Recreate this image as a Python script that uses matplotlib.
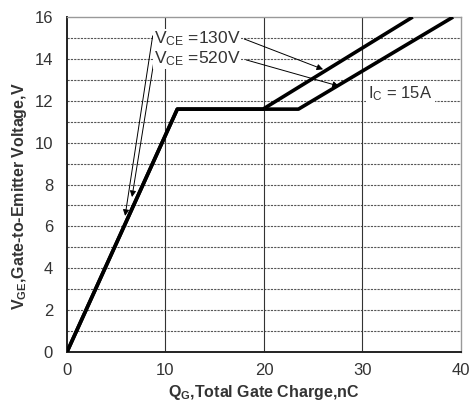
import matplotlib
matplotlib.use("Agg")
import matplotlib.pyplot as plt

plt.rcParams['font.family'] = ['Liberation Sans', 'DejaVu Sans']
plt.rcParams['mathtext.fontset'] = 'custom'
plt.rcParams['mathtext.rm'] = 'Liberation Sans'
plt.rcParams['mathtext.it'] = 'Liberation Sans'
plt.rcParams['mathtext.bf'] = 'Liberation Sans:bold'

# Data
qg_130 = [0, 11.2, 19.9, 35.1]
vge_130 = [0, 11.6, 11.6, 16.0]
qg_520 = [0, 11.2, 23.5, 39.2]
vge_520 = [0, 11.6, 11.6, 16.0]
x_ticks = [0, 10, 20, 30, 40]
y_ticks = [0, 2, 4, 6, 8, 10, 12, 14, 16]

fig = plt.figure(figsize=(4.73, 4.01), dpi=100)
ax = fig.add_axes([0.1416, 0.1222, 0.8330, 0.8354])

# grid
for y in range(1, 16):
    ax.axhline(y, color='#555555', lw=0.8, ls=(0, (2, 1)), zorder=1)
for x in [10, 20, 30]:
    ax.axvline(x, color='#333333', lw=0.8, zorder=1)

ax.plot(qg_130, vge_130, color='black', lw=2.6, zorder=3, solid_capstyle='butt')
ax.plot(qg_520, vge_520, color='black', lw=2.6, zorder=3, solid_capstyle='butt')

ax.set_xlim(0, 40)
ax.set_ylim(0, 16)
ax.set_xticks(x_ticks)
ax.set_yticks(y_ticks)
ax.tick_params(axis='x', length=0, labelsize=12, pad=8, colors='#333333')
ax.tick_params(axis='y', length=0, labelsize=12, pad=10, colors='#333333')
for s in ax.spines.values():
    s.set_color('#999999')
    s.set_linewidth(1.0)
ax.spines['left'].set_color('#222222')
ax.spines['bottom'].set_color('#222222')
ax.spines['left'].set_linewidth(1.4)
ax.spines['bottom'].set_linewidth(1.4)

ax.set_xlabel(r"Q$_\mathbf{G}$,Total Gate Charge,nC", fontsize=11.5,
              fontweight='bold', color='#333333', va='center')
ax.set_ylabel(r"V$_\mathbf{GE}$,Gate-to-Emitter Voltage,V", fontsize=11.5,
              fontweight='bold', color='#333333', va='center')
ax.xaxis.set_label_coords(0.5, -0.12)
ax.yaxis.set_label_coords(-0.12, 0.465)

arrow_kw = dict(arrowstyle='-|>', color='black', lw=0.7, mutation_scale=9,
                shrinkA=0, shrinkB=0)
# text labels
ax.text(8.8, 14.95, r"V$_{\mathrm{CE}}$ =130V", fontsize=12.5, va='center',
        ha='left', color='#333333', zorder=5,
        bbox=dict(facecolor='white', edgecolor='none', pad=0.5))
ax.text(8.8, 14.0, r"V$_{\mathrm{CE}}$ =520V", fontsize=12.5, va='center',
        ha='left', color='#333333', zorder=5,
        bbox=dict(facecolor='white', edgecolor='none', pad=0.5))
ax.text(30.6, 12.35, r"I$_{\mathrm{C}}$ = 15A", fontsize=12, va='center',
        ha='left', color='#333333', zorder=5,
        bbox=dict(facecolor='white', edgecolor='none', pad=2))

# arrows
ax.annotate("", xy=(5.9, 6.5), xytext=(8.7, 15.1), arrowprops=arrow_kw, zorder=4)
ax.annotate("", xy=(6.6, 7.4), xytext=(8.9, 14.1), arrowprops=arrow_kw, zorder=4)
ax.annotate("", xy=(26.0, 13.5), xytext=(18.0, 14.95), arrowprops=arrow_kw, zorder=4)
ax.annotate("", xy=(27.6, 12.7), xytext=(18.2, 13.95), arrowprops=arrow_kw, zorder=4)

fig.savefig("out.png", dpi=100)
